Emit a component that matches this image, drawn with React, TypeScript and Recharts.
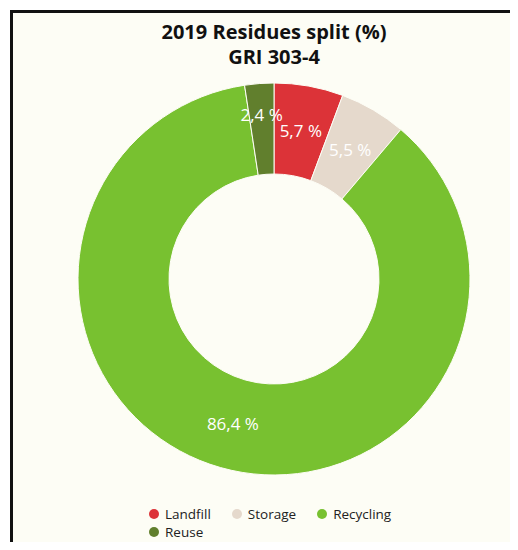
import { PieChart, Pie, Cell, Legend } from "recharts";

const categories = ["Landfill", "Storage", "Recycling", "Reuse"];
const shares = [5.7, 5.5, 86.4, 2.4];
const colors = ["#dc3338", "#e5d9cc", "#78c130", "#617f2d"];

const data = categories.map((name, i) => ({ name, value: shares[i] }));

const RADIAN = Math.PI / 180;
const FONT = "'Open Sans', 'DejaVu Sans', sans-serif";

function renderLabel(props: any) {
  const { cx, cy, midAngle, innerRadius, outerRadius, percent, value } = props;
  // small slices get pushed out a bit so labels don't pile up
  const r = innerRadius + (outerRadius - innerRadius) / 2 + (percent < 0.03 ? 14 : 0);
  const x = cx + r * Math.cos(-midAngle * RADIAN);
  const y = cy + r * Math.sin(-midAngle * RADIAN);
  return (
    <text
      x={x}
      y={y}
      fill="#ffffff"
      textAnchor="middle"
      dominantBaseline="central"
      fontSize={17}
      fontFamily={FONT}
    >
      {String(value).replace(".", ",")} %
    </text>
  );
}

function LegendContent() {
  return (
    <div style={{ display: "flex", flexWrap: "wrap", width: 270, fontFamily: FONT, fontSize: 13.5, color: "#222", lineHeight: "18px" }}>
      {categories.map((c, i) => (
        <div key={c} style={{ display: "flex", alignItems: "center", marginRight: 21 }}>
          <span style={{ width: 10, height: 10, borderRadius: 5, background: colors[i], marginRight: 6, display: "inline-block" }} />
          {c}
        </div>
      ))}
    </div>
  );
}

export default function App() {
  return (
    <div style={{ margin: -8, width: 518, height: 550, position: "relative", background: "#ffffff", overflow: "hidden" }}>
      <div
        style={{
          position: "absolute",
          left: 10,
          top: 10,
          width: 530,
          height: 560,
          borderLeft: "3px solid #111",
          borderTop: "3px solid #111",
          background: "#fdfdf5",
        }}
      />
      <div style={{ position: "absolute", left: 0, top: 19, width: 548, textAlign: "center", fontFamily: FONT, fontWeight: 700, fontSize: 20, lineHeight: "25px", color: "#111" }}>
        2019 Residues split (%)
        <br />
        GRI 303-4
      </div>
      <div style={{ position: "absolute", left: 0, top: 0 }}>
        <PieChart width={518} height={550} margin={{ top: 0, right: 0, bottom: 0, left: 0 }}>
          <Pie
            data={data}
            dataKey="value"
            nameKey="name"
            cx={274}
            cy={279}
            innerRadius={105}
            outerRadius={196}
            startAngle={90}
            endAngle={-270}
            stroke="#fdfdf5"
            strokeWidth={1}
            label={renderLabel}
            labelLine={false}
            isAnimationActive={false}
          >
            {data.map((d, i) => (
              <Cell key={d.name} fill={colors[i]} />
            ))}
          </Pie>
          <Legend content={<LegendContent />} wrapperStyle={{ left: 149, top: 505, width: 270, bottom: "auto" }} />
        </PieChart>
      </div>
    </div>
  );
}
